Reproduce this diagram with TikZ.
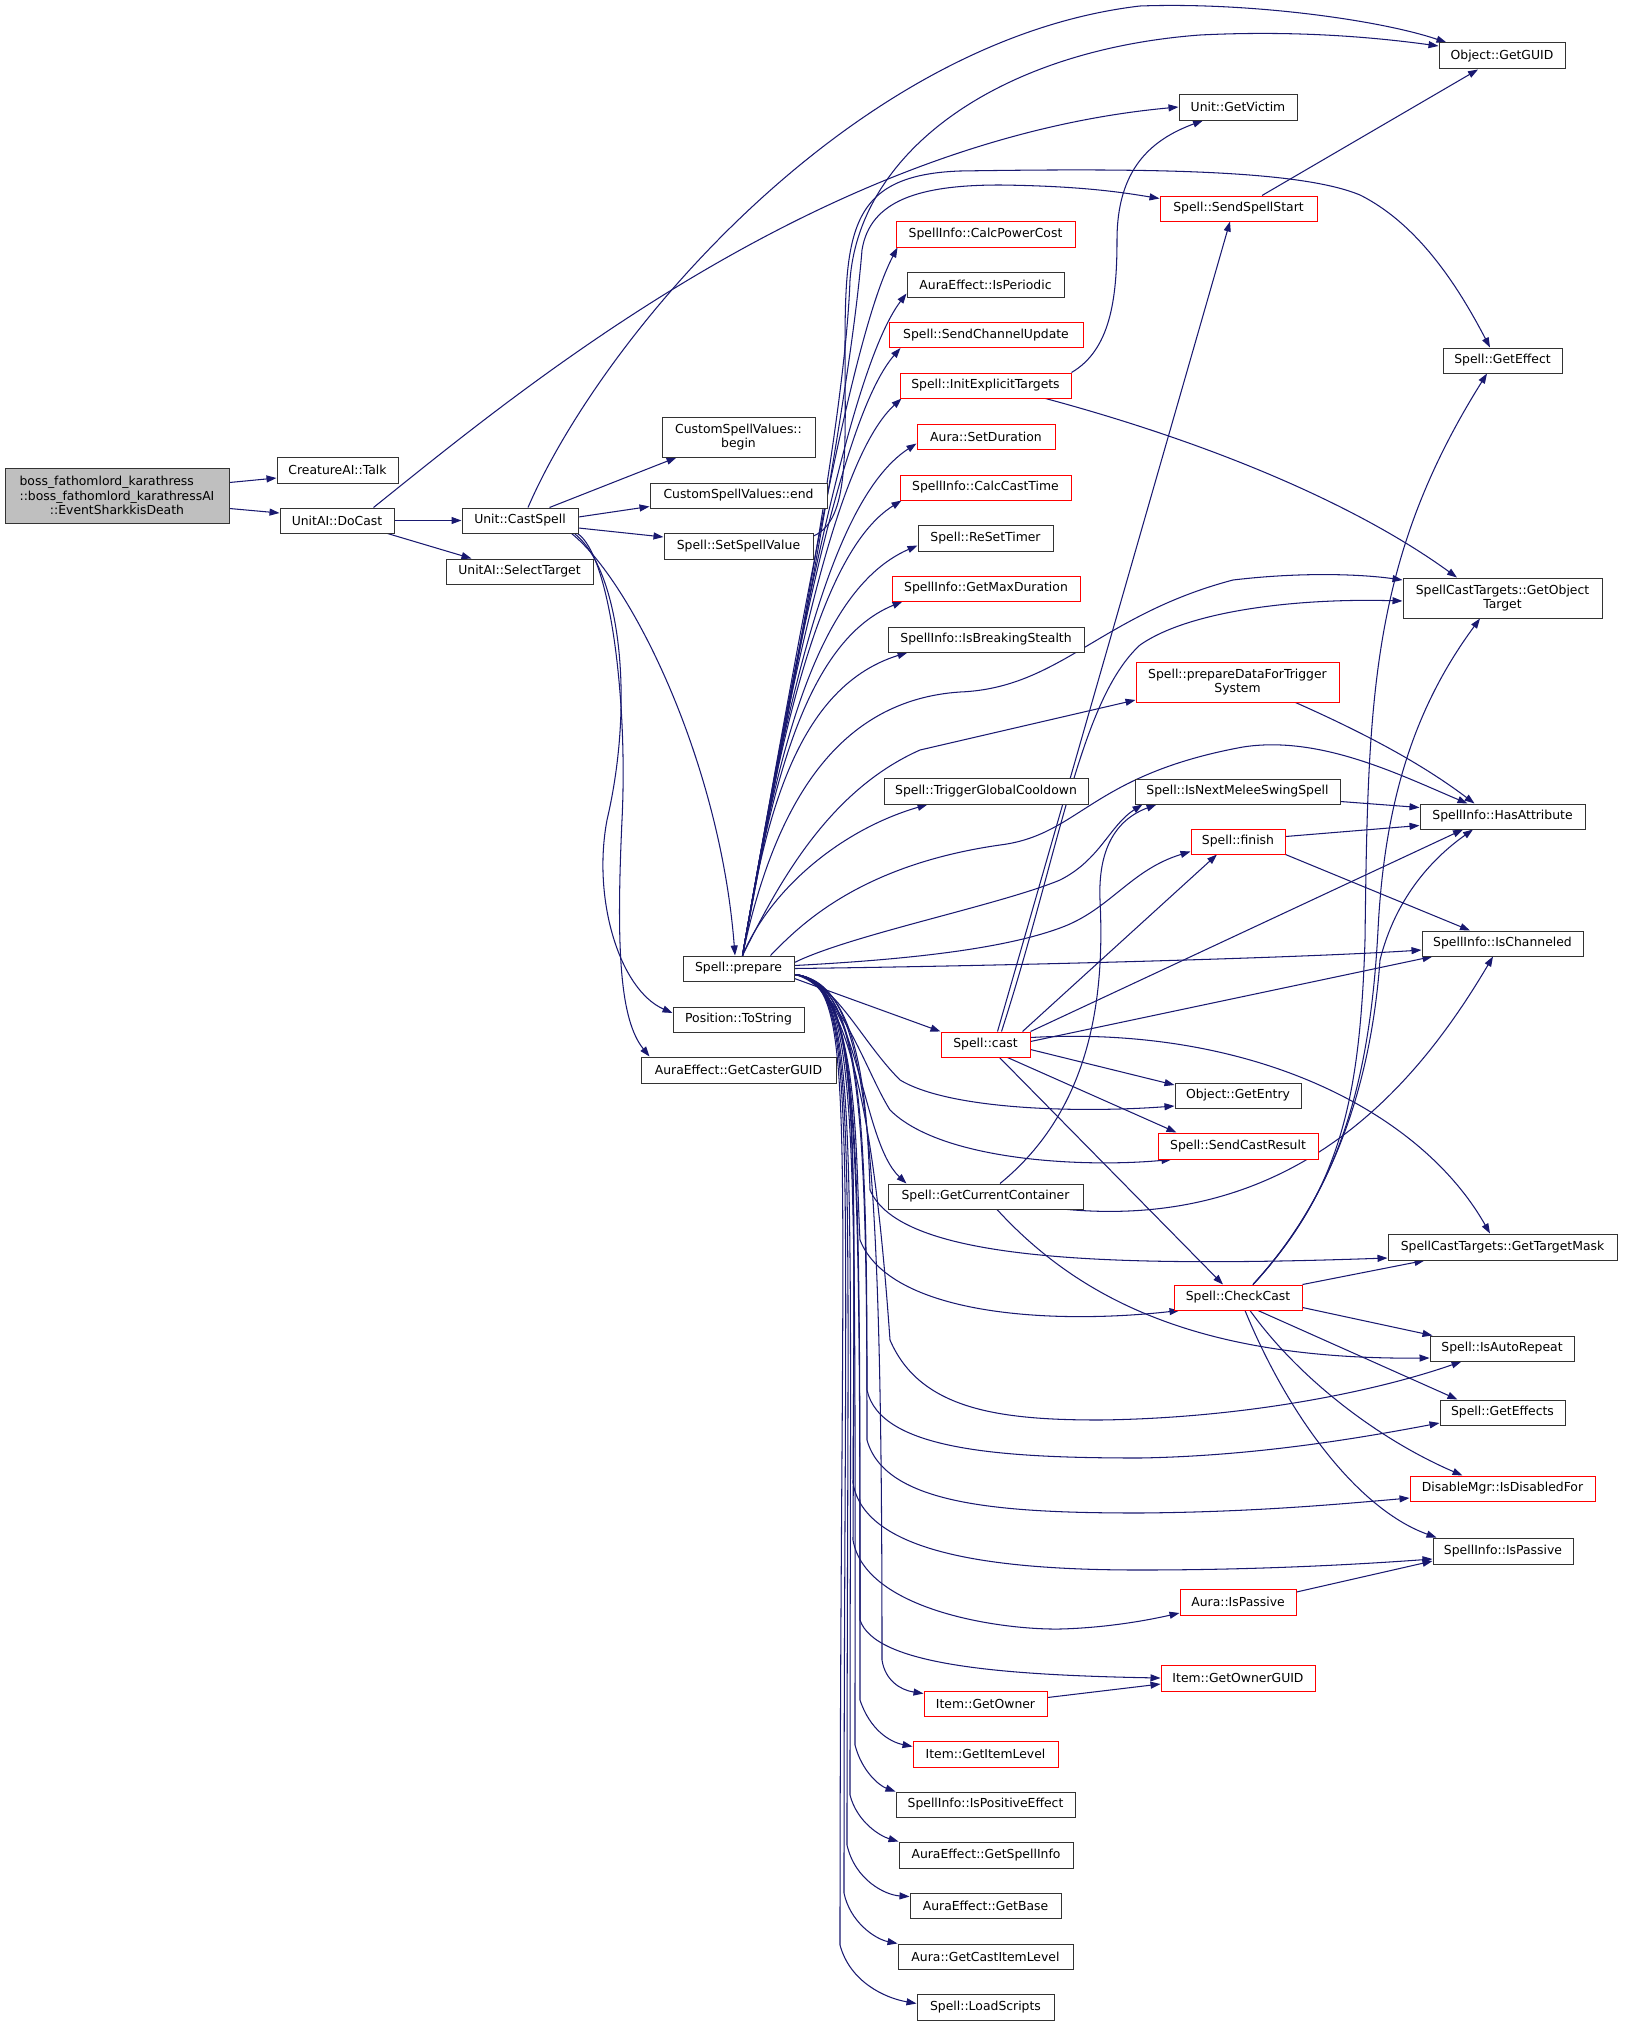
\documentclass[tikz,border=0pt]{standalone}
\usepackage{fontspec}
\setmainfont{DejaVu Sans}
\usetikzlibrary{arrows.meta}
\pgfdeclarelayer{edges}
\pgfsetlayers{edges,main}
\definecolor{edgec}{HTML}{191970}
\definecolor{nodeb}{HTML}{333333}
\definecolor{redb}{HTML}{FF0000}
\definecolor{mainfill}{HTML}{BFBFBF}
\tikzset{
 box/.style={draw=nodeb, line width=1pt, rectangle, inner sep=0pt, align=center,
   font=\fontsize{12.4}{14.5}\selectfont, fill=white},
 rbox/.style={box, draw=redb},
 e/.style={draw=edgec, line width=1.05pt, -{Triangle[length=10pt,width=7pt]}},
}
\newcommand{\gnode}[7]{\node[#2, minimum width=#5pt, minimum height=#6pt] (#1) at (#3,#4) {#7};}
\begin{document}
\begin{tikzpicture}[x=1pt,y=-1pt]
\useasboundingbox (0,0) rectangle (1627,2026);
\gnode{main}{box,fill=mainfill}{117}{495.5}{224}{55}{boss\_fathomlord\_karathress\phantom{::AI}\\::boss\_fathomlord\_karathressAI\\::EventSharkkisDeath}
\gnode{talk}{box}{337.5}{470}{121}{26}{CreatureAI::Talk}
\gnode{docast}{box}{337}{520.5}{114}{25}{UnitAI::DoCast}
\gnode{castspell}{box}{520}{520.5}{116}{25}{Unit::CastSpell}
\gnode{selecttarget}{box}{519.5}{571.5}{147}{25}{UnitAI::SelectTarget}
\gnode{getguid}{box}{1502}{56}{126}{26}{Object::GetGUID}
\gnode{getvictim}{box}{1238}{107}{118}{26}{Unit::GetVictim}
\gnode{sendspellstart}{rbox}{1238.5}{208.5}{157}{25}{Spell::SendSpellStart}
\gnode{calcpowercost}{rbox}{985.5}{234}{179}{26}{SpellInfo::CalcPowerCost}
\gnode{isperiodic}{box}{985.5}{284.5}{157}{25}{AuraEffect::IsPeriodic}
\gnode{sendchannelupdate}{rbox}{986}{335}{194}{25}{Spell::SendChannelUpdate}
\gnode{geteffect}{box}{1502.5}{360.5}{119}{25}{Spell::GetEffect}
\gnode{cbegin}{box}{738.5}{437}{153}{40}{CustomSpellValues::\\begin}
\gnode{cend}{box}{738.5}{495.5}{177}{25}{CustomSpellValues::end}
\gnode{setspellvalue}{box}{738.5}{546}{149}{26}{Spell::SetSpellValue}
\gnode{initexplicit}{rbox}{985.5}{385.5}{171}{25}{Spell::InitExplicitTargets}
\gnode{setduration}{rbox}{986}{436.5}{138}{25}{Aura::SetDuration}
\gnode{calccasttime}{rbox}{985.5}{487.5}{171}{25}{SpellInfo::CalcCastTime}
\gnode{resettimer}{box}{985.5}{538}{135}{26}{Spell::ReSetTimer}
\gnode{getmaxduration}{rbox}{986}{588.5}{188}{25}{SpellInfo::GetMaxDuration}
\gnode{isbreakingstealth}{box}{986}{639.5}{196}{25}{SpellInfo::IsBreakingStealth}
\gnode{getobjecttarget}{box}{1502.5}{598}{199}{40}{SpellCastTargets::GetObject\\Target}
\gnode{preparedata}{rbox}{1237.5}{682}{203}{40}{Spell::prepareDataForTrigger\\System}
\gnode{isnextmelee}{box}{1237.5}{791.5}{205}{25}{Spell::IsNextMeleeSwingSpell}
\gnode{hasattribute}{box}{1502.5}{816.5}{165}{25}{SpellInfo::HasAttribute}
\gnode{finish}{rbox}{1238}{841.5}{94}{25}{Spell::finish}
\gnode{ischanneled}{box}{1502.5}{943.5}{161}{25}{SpellInfo::IsChanneled}
\gnode{triggergcd}{box}{986}{791}{204}{26}{Spell::TriggerGlobalCooldown}
\gnode{prepare}{box}{738.5}{968.5}{111}{25}{Spell::prepare}
\gnode{tostring}{box}{738.5}{1019.5}{131}{25}{Position::ToString}
\gnode{castercguid}{box}{738.5}{1070}{195}{26}{AuraEffect::GetCasterGUID}
\gnode{cast}{rbox}{985.5}{1044.5}{89}{25}{Spell::cast}
\gnode{getcurrentcontainer}{box}{985.5}{1196.5}{195}{25}{Spell::GetCurrentContainer}
\gnode{getentry}{box}{1238}{1095.5}{126}{25}{Object::GetEntry}
\gnode{sendcastresult}{rbox}{1238}{1146}{160}{26}{Spell::SendCastResult}
\gnode{gettargetmask}{box}{1502.5}{1247}{229}{26}{SpellCastTargets::GetTargetMask}
\gnode{checkcast}{rbox}{1238}{1297.5}{128}{25}{Spell::CheckCast}
\gnode{isautorepeat}{box}{1502}{1348.5}{144}{25}{Spell::IsAutoRepeat}
\gnode{geteffects}{box}{1502.5}{1412.5}{125}{25}{Spell::GetEffects}
\gnode{isdisabledfor}{rbox}{1502.5}{1488.5}{185}{25}{DisableMgr::IsDisabledFor}
\gnode{spispassive}{box}{1503}{1551}{140}{26}{SpellInfo::IsPassive}
\gnode{auraispassive}{rbox}{1238}{1602}{116}{26}{Aura::IsPassive}
\gnode{getownerguid}{rbox}{1238}{1678}{154}{26}{Item::GetOwnerGUID}
\gnode{getowner}{rbox}{985.5}{1703.5}{123}{25}{Item::GetOwner}
\gnode{getitemlevel}{rbox}{985.5}{1754}{145}{26}{Item::GetItemLevel}
\gnode{ispositiveeffect}{box}{985.5}{1804.5}{179}{25}{SpellInfo::IsPositiveEffect}
\gnode{getspellinfo}{box}{986}{1855}{174}{26}{AuraEffect::GetSpellInfo}
\gnode{getbase}{box}{985.5}{1905.5}{151}{25}{AuraEffect::GetBase}
\gnode{getcastitemlevel}{box}{985.5}{1956.5}{175}{25}{Aura::GetCastItemLevel}
\gnode{loadscripts}{box}{985.5}{2007}{137}{26}{Spell::LoadScripts}

\begin{pgfonlayer}{edges}
% left part
\draw[e] ([yshift=13pt]main.east) -- ([yshift=-8pt]talk.west);
\draw[e] ([yshift=-13pt]main.east) -- ([yshift=7.5pt]docast.west);
\draw[e] (docast.east) -- (castspell.west);
\draw[e] ([xshift=-7pt]docast.south east) -- ([xshift=26pt]selecttarget.north west);
\draw[e] ([xshift=-21pt]docast.north east) .. controls (520,390) and (820,140) .. (getvictim.west);
\draw[e] ([xshift=8pt]castspell.north) .. controls (600,340) and (850,40) .. (1140,6) .. controls (1250,2) and (1380,20) .. ([xshift=8pt]getguid.north west);
\draw[e] ([xshift=-29pt]castspell.north east) -- ([xshift=15pt]cbegin.south west);
\draw[e] ([yshift=3.5pt]castspell.east) -- ([yshift=2pt]cend.south west);
\draw[e] ([yshift=-7.5pt]castspell.east) -- ([yshift=9pt]setspellvalue.west);
\draw[e] ([xshift=-7pt]castspell.south east) .. controls (630,580) and (720,760) .. ([xshift=-3.5pt]prepare.north);
\draw[e] ([xshift=-4pt]castspell.south east) .. controls (620,570) and (635,700) .. (607,820) .. controls (592,900) and (620,990) .. ([yshift=6.5pt]tostring.west);
\draw[e] ([xshift=-1pt]castspell.south east) .. controls (610,555) and (628,700) .. (622,820) .. controls (616,950) and (620,1020) .. ([xshift=9pt]castercguid.north west);
\draw[e] ([yshift=10pt]setspellvalue.east) .. controls (850,520) and (845,450) .. (845,350) .. controls (845,230) and (850,175) .. (960,171) .. controls (1150,168) and (1300,170) .. (1360,195) .. controls (1420,225) and (1460,290) .. ([xshift=-12.5pt]geteffect.north);
% prepare upper fan
\draw[e] ([xshift=4pt]prepare.north) .. controls (790,700) and (850,400) .. (862,250) .. controls (870,200) and (920,185) .. (1000,185) .. controls (1080,186) and (1120,192) .. ([yshift=10pt]sendspellstart.west);
\draw[e] ([xshift=4pt]prepare.north) .. controls (790,700) and (845,420) .. (850,280) .. controls (860,150) and (1000,50) .. (1200,35) .. controls (1300,30) and (1380,38) .. ([yshift=10pt]getguid.west);
\draw[e] ([xshift=4pt]prepare.north) .. controls (805,600) and (853,332) .. ([xshift=2pt]calcpowercost.south west);
\draw[e] ([xshift=4pt]prepare.north) .. controls (789,691) and (846,373) .. ([yshift=4pt]isperiodic.south west);
\draw[e] ([xshift=4pt]prepare.north) .. controls (785,713) and (837,421) .. ([xshift=12pt]sendchannelupdate.south west);
\draw[e] ([xshift=4pt]prepare.north) .. controls (782,733) and (829,465) .. ([xshift=2pt]initexplicit.south west);
\draw[e] ([xshift=4pt]prepare.north) .. controls (778,751) and (822,505) .. ([yshift=6pt]setduration.south west);
\draw[e] ([xshift=4pt]prepare.north) .. controls (774,774) and (813,556) .. ([xshift=2pt]calccasttime.south west);
\draw[e] ([xshift=4pt]prepare.north) .. controls (771,792) and (806,594) .. ([yshift=6pt]resettimer.south west);
\draw[e] ([xshift=4pt]prepare.north) .. controls (767,814) and (798,644) .. ([xshift=11pt]getmaxduration.south west);
\draw[e] ([xshift=4pt]prepare.north) .. controls (763,835) and (790,689) .. ([xshift=20pt]isbreakingstealth.south west);
\draw[e] ([xshift=4pt]prepare.north) .. controls (770,890) and (840,830) .. ([xshift=44pt]triggergcd.south west);
\draw[e] ([xshift=4pt]prepare.north) .. controls (775,800) and (840,700) .. (960,692) .. controls (1060,688) and (1100,615) .. (1233,580) .. controls (1300,572) and (1360,574) .. ([yshift=18pt]getobjecttarget.west);
\draw[e] ([xshift=4pt]prepare.north) .. controls (780,880) and (830,790) .. (920,750) -- ([yshift=-18pt]preparedata.west);
\draw[e] ([xshift=-24pt]prepare.north east) .. controls (800,925) and (860,865) .. (1000,845) .. controls (1080,835) and (1090,775) .. (1243,747) .. controls (1320,735) and (1400,775) .. ([xshift=-35pt]hasattribute.north);
\draw[e] ([yshift=6pt]prepare.east) .. controls (850,935) and (1000,905) .. (1060,880) .. controls (1100,860) and (1110,825) .. ([xshift=8pt]isnextmelee.south west);
\draw[e] ([yshift=3pt]prepare.east) .. controls (900,960) and (1000,950) .. (1060,928) .. controls (1110,910) and (1130,870) .. ([yshift=3pt]finish.south west);
\draw[e] (prepare.east) .. controls (1000,966) and (1300,958) .. ([yshift=-6.5pt]ischanneled.west);
\draw[e] ([yshift=-10pt]prepare.east) -- (cast.north west);
% prepare lower fan
\draw[e] ([yshift=-6pt]prepare.east) .. controls (835,980) and (860,1040) .. (900,1080) .. controls (950,1110) and (1080,1113) .. ([yshift=-10.5pt]getentry.west);
\draw[e] ([yshift=-6pt]prepare.east) .. controls (840,985) and (865,1070) .. (890,1110) .. controls (940,1160) and (1080,1168) .. ([xshift=14pt]sendcastresult.south west);
\draw[e] ([yshift=-6pt]prepare.east) .. controls (860,985) and (860,1140) .. ([xshift=19pt]getcurrentcontainer.north west);
\draw[e] ([yshift=-6pt]prepare.east) .. controls (860,982) and (867,1100) .. (870,1190) .. controls (900,1260) and (1100,1268) .. ([yshift=-11pt]gettargetmask.west);
\draw[e] ([yshift=-6pt]prepare.east) .. controls (860,982) and (855,1150) .. (860,1240) .. controls (890,1315) and (1050,1325) .. ([xshift=6pt]checkcast.south west);
\draw[e] ([yshift=-6pt]prepare.east) .. controls (860,982) and (880,1200) .. (890,1340) .. controls (920,1410) and (1000,1420) .. (1100,1420) .. controls (1250,1418) and (1380,1390) .. ([xshift=32pt]isautorepeat.south west);
\draw[e] ([yshift=-6pt]prepare.east) .. controls (860,982) and (867,1100) .. (867,1390) .. controls (880,1450) and (1000,1458) .. (1140,1458) .. controls (1250,1456) and (1350,1440) .. ([yshift=-10.5pt]geteffects.west);
\draw[e] ([yshift=-6pt]prepare.east) .. controls (860,982) and (867,1100) .. (867,1440) .. controls (885,1505) and (1000,1513) .. (1140,1513) .. controls (1250,1512) and (1330,1505) .. ([yshift=-9.5pt]isdisabledfor.west);
\draw[e] ([yshift=-6pt]prepare.east) .. controls (860,982) and (855,1100) .. (853,1483) .. controls (865,1555) and (1000,1570) .. (1140,1570) .. controls (1250,1570) and (1350,1565) .. ([yshift=-8pt]spispassive.west);
\draw[e] ([yshift=-6pt]prepare.east) .. controls (860,982) and (855,1100) .. (853,1540) .. controls (865,1610) and (1000,1630) .. (1060,1629) .. controls (1100,1628) and (1140,1622) .. ([yshift=-11pt]auraispassive.west);
\draw[e] ([yshift=-6pt]prepare.east) .. controls (860,982) and (860,1100) .. (860,1620) .. controls (875,1665) and (1000,1675) .. (getownerguid.west);
\draw[e] ([yshift=-6pt]prepare.east) .. controls (865,982) and (882,1100) .. (882,1660) .. controls (885,1680) and (900,1690) .. ([yshift=-3pt]getowner.north west);
\draw[e] ([yshift=-6pt]prepare.east) .. controls (860,982) and (860,1100) .. (860,1700) .. controls (870,1730) and (890,1742) .. ([yshift=-6pt]getitemlevel.north west);
\draw[e] ([yshift=-6pt]prepare.east) .. controls (860,982) and (855,1100) .. (855,1745) .. controls (862,1772) and (880,1786) .. (ispositiveeffect.north west);
\draw[e] ([yshift=-6pt]prepare.east) .. controls (860,982) and (850,1100) .. (850,1795) .. controls (857,1822) and (880,1836) .. (getspellinfo.north west);
\draw[e] ([yshift=-6pt]prepare.east) .. controls (860,982) and (847,1100) .. (847,1845) .. controls (855,1880) and (885,1895) .. ([yshift=-4pt]getbase.north west);
\draw[e] ([yshift=-6pt]prepare.east) .. controls (860,982) and (844,1100) .. (844,1893) .. controls (850,1922) and (875,1939) .. (getcastitemlevel.north west);
\draw[e] ([yshift=-6pt]prepare.east) .. controls (860,982) and (840,1100) .. (840,1945) .. controls (850,1982) and (885,1998) .. ([yshift=-10pt]loadscripts.north west);
% cast
\draw[e] ([xshift=12pt]cast.north) -- ([xshift=-8.5pt]sendspellstart.south);
\draw[e] ([xshift=16pt]cast.north) .. controls (1060,850) and (1080,700) .. (1140,645) .. controls (1190,610) and (1300,598) .. ([yshift=-3pt]getobjecttarget.west);
\draw[e] ([xshift=-8pt]cast.north east) -- ([xshift=-21pt]finish.south);
\draw[e] (cast.north east) -- ([xshift=-39.5pt]hasattribute.south);
\draw[e] ([yshift=3pt]cast.east) -- ([xshift=11pt]ischanneled.south west);
\draw[e] ([yshift=7pt]cast.east) .. controls (1250,1025) and (1420,1110) .. ([xshift=-12.5pt]gettargetmask.north);
\draw[e] ([yshift=-5pt]cast.east) -- ([yshift=10.5pt]getentry.west);
\draw[e] ([xshift=22pt]cast.south) -- ([xshift=19pt]sendcastresult.north west);
\draw[e] ([xshift=14pt]cast.south) -- ([xshift=-15pt]checkcast.north);
% others
\draw[e] ([xshift=23.5pt]sendspellstart.north) -- ([xshift=-24pt]getguid.south);
\draw[e] (initexplicit.north east) .. controls (1110,350) and (1117,300) .. (1117,240) .. controls (1117,170) and (1150,140) .. ([xshift=-35pt]getvictim.south);
\draw[e] ([xshift=-26pt]initexplicit.south east) .. controls (1200,440) and (1350,500) .. ([xshift=-45.5pt]getobjecttarget.north);
\draw[e] ([xshift=-44pt]preparedata.south east) .. controls (1380,740) and (1430,770) .. ([xshift=-28pt]hasattribute.north);
\draw[e] ([yshift=-10pt]isnextmelee.east) -- ([yshift=9pt]hasattribute.west);
\draw[e] ([yshift=5pt]finish.east) -- ([yshift=-9pt]hasattribute.west);
\draw[e] (finish.south east) -- ([xshift=-32.5pt]ischanneled.north);
\draw[e] ([xshift=14.5pt]getcurrentcontainer.north) .. controls (1090,1110) and (1105,1000) .. (1100,900) .. controls (1098,850) and (1115,820) .. ([xshift=22pt]isnextmelee.south west);
\draw[e] ([xshift=-16pt]getcurrentcontainer.south east) .. controls (1300,1230) and (1420,1080) .. ([xshift=-9.5pt]ischanneled.south);
\draw[e] ([xshift=11.5pt]getcurrentcontainer.south) .. controls (1080,1300) and (1200,1360) .. ([yshift=-9.5pt]isautorepeat.west);
\draw[e] ([xshift=15pt]checkcast.north) .. controls (1340,1190) and (1360,1100) .. (1365,940) .. controls (1368,700) and (1370,560) .. ([xshift=-15.5pt]geteffect.south);
\draw[e] ([xshift=15pt]checkcast.north) .. controls (1340,1190) and (1370,1080) .. (1378,930) .. controls (1385,790) and (1420,700) .. ([xshift=-22.5pt]getobjecttarget.south);
\draw[e] ([xshift=15pt]checkcast.north) .. controls (1340,1190) and (1372,1070) .. (1380,960) .. controls (1395,900) and (1430,860) .. ([xshift=-29.5pt]hasattribute.south);
\draw[e] (checkcast.north east) -- ([xshift=37pt]gettargetmask.south west);
\draw[e] ([yshift=-10pt]checkcast.east) -- ([xshift=3pt]isautorepeat.north west);
\draw[e] ([xshift=20pt]checkcast.south) -- ([xshift=18pt]geteffects.north west);
\draw[e] ([xshift=12pt]checkcast.south) .. controls (1300,1380) and (1380,1440) .. ([xshift=53pt]isdisabledfor.north west);
\draw[e] ([xshift=7pt]checkcast.south) .. controls (1290,1420) and (1360,1510) .. ([xshift=4pt]spispassive.north west);
\draw[e] ([yshift=10pt]auraispassive.east) -- ([yshift=-10pt]spispassive.west);
\draw[e] ([yshift=6pt]getowner.east) -- ([yshift=-6pt]getownerguid.west);
\end{pgfonlayer}
\end{tikzpicture}
\end{document}
